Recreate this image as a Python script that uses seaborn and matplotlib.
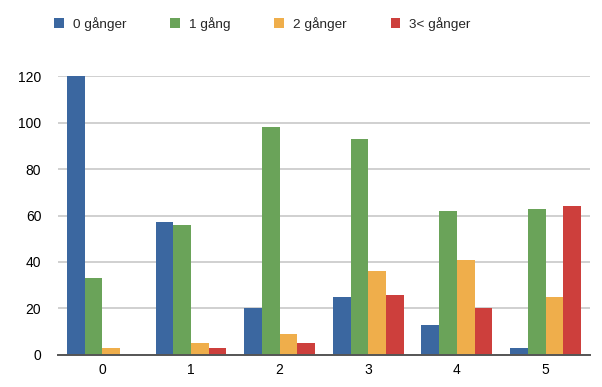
import matplotlib
matplotlib.use("Agg")
import matplotlib.pyplot as plt
import seaborn as sns
import pandas as pd

categories = ["0", "1", "2", "3", "4", "5"]
series_names = ["0 gånger", "1 gång", "2 gånger", "3< gånger"]
v0 = [120, 57, 20, 25, 13, 3]
v1 = [33, 56, 98, 93, 62, 63]
v2 = [3, 5, 9, 36, 41, 25]
v3 = [0, 3, 5, 26, 20, 64]
colors = ["#3b67a0", "#6aa359", "#efae4b", "#cd3f3c"]

rows = []
for name, vals in zip(series_names, [v0, v1, v2, v3]):
    for c, v in zip(categories, vals):
        rows.append({"kategori": c, "serie": name, "antal": v})
df = pd.DataFrame(rows)

sns.set_style("white")
plt.rcParams["font.family"] = ["Liberation Sans", "DejaVu Sans"]

fig = plt.figure(figsize=(6.02, 3.87), dpi=100)
ax = fig.add_axes([0.0963, 0.0827, 0.8837, 0.7209])

sns.barplot(data=df, x="kategori", y="antal", hue="serie", order=categories,
            hue_order=series_names, palette=colors, saturation=1, width=0.8,
            linewidth=0, edgecolor="none", ax=ax, zorder=3)

ax.set_ylim(0, 120)
ax.set_xlim(-0.5, 5.5)
ax.set_yticks(range(0, 121, 20))
ax.yaxis.grid(True, color="#c4c4c4", linewidth=1.1, zorder=0)
ax.set_axisbelow(True)
ax.set_xlabel("")
ax.set_ylabel("")
for s in ["top", "right", "left"]:
    ax.spines[s].set_visible(False)
ax.spines["bottom"].set_color("#555555")
ax.spines["bottom"].set_linewidth(1.4)
ax.spines["bottom"].set_zorder(4)
ax.tick_params(axis="both", length=0, labelsize=10, colors="black")
ax.tick_params(axis="y", pad=12)
ax.tick_params(axis="x", pad=6)

handles, labels = ax.get_legend_handles_labels()
ax.get_legend().remove()
fig.legend(handles, labels, loc="center left", bbox_to_anchor=(0.0897, 0.938),
           ncol=4, frameon=False, fontsize=9.7, handlelength=0.72,
           handleheight=0.72, handletextpad=0.68, columnspacing=3.25,
           borderpad=0, borderaxespad=0)

fig.savefig("out.png", dpi=100)
